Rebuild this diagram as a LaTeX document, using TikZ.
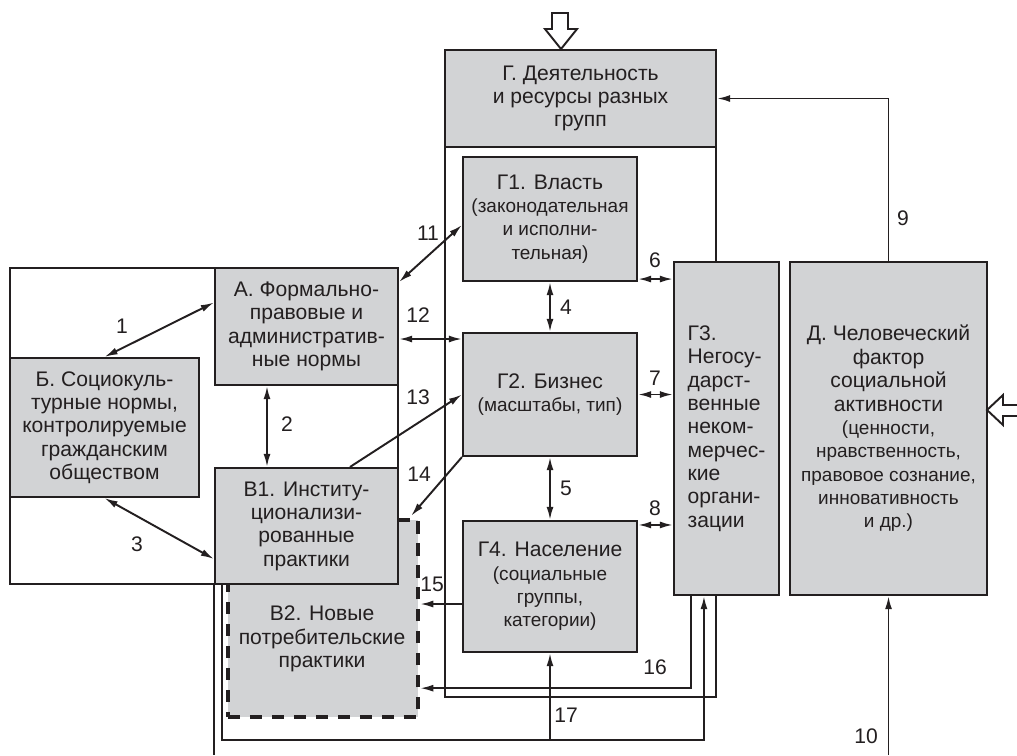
\documentclass[tikz,border=0pt]{standalone}
\usepackage{fontspec}
\setmainfont{Liberation Sans}
\usetikzlibrary{arrows.meta,calc,positioning}
\definecolor{boxfill}{HTML}{D2D3D5}
\definecolor{ink}{HTML}{231F20}
\newcommand{\mainsz}{\fontsize{12}{13.3}\selectfont}
\newcommand{\smallsz}{\fontsize{10.8}{13}\selectfont}
\tikzset{
  % ---- blocks ----------------------------------------------------
  blk/.style    = {draw=ink, line width=1.2pt, fill=boxfill, inner sep=0pt,
                   align=center, font=\mainsz, text=ink},
  frm/.style    = {draw=ink, line width=1.2pt},
  newbox/.style = {draw=ink, fill=boxfill, line width=2.5pt,
                   dash pattern=on 7pt off 5.5pt},
  blklab/.style = {font=\mainsz, text=ink, align=center},
  % ---- links -----------------------------------------------------
  lnk/.style    = {draw=ink, line width=1.1pt},
  one/.style    = {lnk, -{Latex[length=7.5pt,width=4pt]}},
  two/.style    = {lnk, {Latex[length=7.5pt,width=4pt]}-{Latex[length=7.5pt,width=4pt]}},
  num/.style    = {font=\mainsz, text=ink, inner sep=1pt},
  hollow/.style = {draw=ink, line width=1.1pt, fill=white, line join=miter},
}

\begin{document}
\begin{tikzpicture}[x=0.02cm, y=-0.02cm]
  \useasboundingbox (0,0) rectangle (1017,755);
  % frames
  \draw[frm] (10,268) rectangle (398,584);
  \draw[frm] (445,50) rectangle (716,697);
  % blocks
  \node[newbox, minimum width=3.80cm, minimum height=3.94cm] (V2) at (323,618.5) {};
  \node[blklab] (V2lab) at (322,639) {В2. Новые\\потребительские\\практики};
  \node[blk, minimum width=5.42cm, minimum height=1.94cm] (G) at (580.5,98.5)
    {Г. Деятельность\\и ресурсы разных\\групп};
  \node[blk, minimum width=3.48cm, minimum height=2.48cm] (G1) at (550,219)
    {Г1. Власть\\\smallsz(законодательная\\\smallsz и исполни-\\\smallsz тельная)};
  \node[blk, minimum width=3.48cm, minimum height=2.46cm] (G2) at (550,394.5)
    {Г2. Бизнес\\\smallsz(масштабы, тип)};
  \node[blk, minimum width=3.48cm, minimum height=2.62cm] (G4) at (550,586.5)
    {Г4. Население\\\smallsz(социальные\\\smallsz группы,\\\smallsz категории)};
  \node[blk, align=left, minimum width=2.10cm, minimum height=6.66cm] (G3) at (726.5,428.5)
    {Г3.\\Негосу-\\дарст-\\венные\\неком-\\мерчес-\\кие\\органи-\\зации};
  \node[blk, minimum width=3.94cm, minimum height=6.66cm] (D) at (888.5,428.5)
    {Д. Человеческий\\фактор\\социальной\\активности\\\smallsz(ценности,\\\smallsz нравственность,\\\smallsz правовое сознание,\\\smallsz инновативность\\\smallsz и др.)};
  \node[blk, minimum width=3.66cm, minimum height=2.34cm] (A) at (306.5,326.5)
    {А. Формально-\\правовые и\\административ-\\ные нормы};
  \node[blk, minimum width=3.78cm, minimum height=2.78cm] (B) at (104.5,427.5)
    {Б. Социокуль-\\турные нормы,\\контролируемые\\гражданским\\обществом};
  \node[blk, minimum width=3.66cm, minimum height=2.32cm] (V1) at (306.5,526)
    {В1. Институ-\\ционализи-\\рованные\\практики};
  % links
  \draw[two] (B.north) -- ($(A.west)+(0,-24)$);
  \draw[two] ($(A.south)+(-39.5,0)$) -- ($(V1.north)+(-39.5,0)$);
  \draw[two] (B.south) -- ($(V1.west)+(0,33)$);
  \draw[two] (G1.south) -- (G2.north);
  \draw[two] (G2.south) -- (G4.north);
  \draw[two] ($(G1.south east)+(0,-3)$) coordinate (c6) -- (c6 -| G3.west);
  \draw[two] (G2.east) -- (G2.east -| G3.west);
  \draw[two] ($(G4.north east)+(0,5)$) coordinate (c8) -- (c8 -| G3.west);
  \draw[one] (D.north) |- (G.east);
  \coordinate (c10) at (888.5,755);
  \draw[one] (c10) -- (D.south);
  \draw[two] ($(A.north east)+(0,15)$) -- ($(G1.west)+(0,6)$);
  \draw[two] ($(A.east)+(0,12.5)$) coordinate (c12) -- (c12 -| G2.west);
  \draw[one] ($(V1.north)+(43.5,0)$) -- (G2.west);
  \draw[one] (G2.south west) -- ($(V2.north east)+(-9,-2)$);
  \draw[one] ($(G4.west)+(0,17.5)$) coordinate (c15) -- (c15 -| V2.east);
  \draw[one] ($(G3.south west)+(18,0)$) |- ($(V2.south east)+(0,-31)$);
  \coordinate (c17) at ($(G3.south west)+(31,144)$);
  \draw[one] ($(V1.south west)+(8,0)$) |- (c17) -- (c17 |- G3.south);
  \draw[one] (G4.south |- c17) -- (G4.south);
  \draw[lnk] (V1.south west) -- (V1.south west |- c10);
  % inputs
  \draw[hollow] (552,13) -- (568,13) -- (568,29) -- (577,29) -- (561,49)
    -- (545,29) -- (552,29) -- cycle;
  \draw[hollow] (1017,405) -- (1003,405) -- (1003,395) -- (987,410)
    -- (1003,425) -- (1003,416) -- (1017,416);
  % numbers
  \node[num] (n1) at (122,326) {1};
  \node[num] (n2) at (287,424) {2};
  \node[num] (n3) at (137,544) {3};
  \node[num] (n4) at (566,307) {4};
  \node[num] (n5) at (566,488) {5};
  \node[num] (n6) at (655,260) {6};
  \node[num] (n7) at (655,378) {7};
  \node[num] (n8) at (655,508) {8};
  \node[num] (n9) at (903,218) {9};
  \node[num] (n10) at (866,736) {10};
  \node[num] (n11) at (428,233) {11};
  \node[num] (n12) at (418,315) {12};
  \node[num] (n13) at (418,397) {13};
  \node[num] (n14) at (419,474) {14};
  \node[num] (n15) at (432,584) {15};
  \node[num] (n16) at (655,667) {16};
  \node[num] (n17) at (566,715) {17};
\end{tikzpicture}
\end{document}
